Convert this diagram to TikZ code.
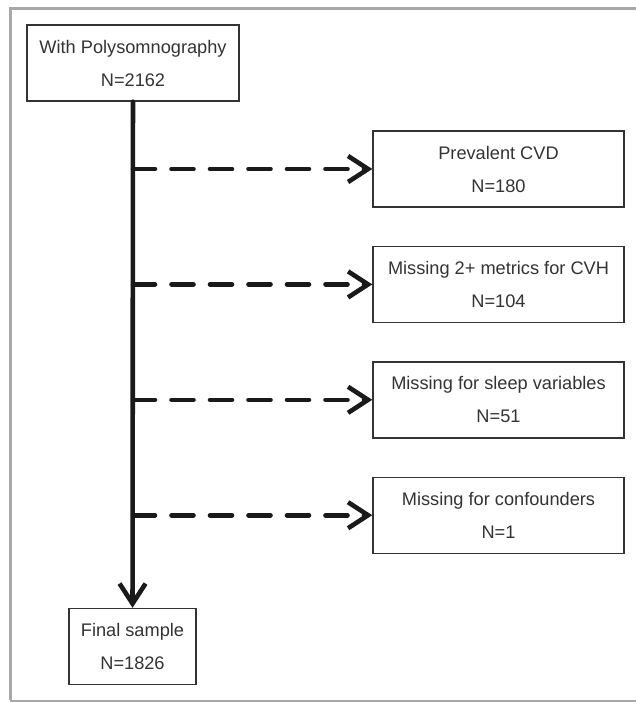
\documentclass[tikz,border=0pt]{standalone}
\usepackage{fontspec}
\setmainfont{Liberation Sans}
\usetikzlibrary{positioning,arrows.meta}
\definecolor{framegray}{HTML}{A8A8A8}
\definecolor{boxgray}{HTML}{333333}
\definecolor{linegray}{HTML}{1A1A1A}

\begin{document}
\begin{tikzpicture}[
    x=1pt, y=-1pt,
    node distance=38pt,
    box/.style={rectangle, draw=boxgray, line width=1.4pt, text=boxgray, minimum height=76pt, inner sep=0pt, align=center, font=\fontsize{18.2}{33}\selectfont, execute at begin node={\rule{0pt}{27pt}}},
    trunk/.style={draw=linegray, line width=4.6pt, line cap=round, line join=round, -{Straight Barb[length=20pt,width=26pt]}},
    exclude/.style={trunk, dash pattern=on 22pt off 16.5pt}
]
\useasboundingbox (0,0) rectangle (636,702);

% Frame
\draw[framegray, line width=3pt] (10,700) -- (10,8.5) -- (636,8.5);
\draw[framegray, line width=2pt] (10,700.5) -- (636,700.5);

% Nodes
\node[box, minimum width=212pt] (psg) at (133,63) {With Polysomnography\\N=2162};
\node[box, minimum width=251pt] (cvd) at (498.5,169) {Prevalent CVD\\N=180};
\node[box, minimum width=251pt, below=of cvd] (cvh) {Missing 2+ metrics for CVH\\N=104};
\node[box, minimum width=251pt, below=of cvh] (sleep) {Missing for sleep variables\\N=51};
\node[box, minimum width=251pt, below=of sleep] (conf) {Missing for confounders\\N=1};
\node[box, minimum width=127pt] (final) at (132.5,646.5) {Final sample\\N=1826};

% Edges
\draw[trunk] (psg) -- (final);
\draw[exclude] (psg |- cvd) -- (cvd);
\draw[exclude] (psg |- cvh) -- (cvh);
\draw[exclude] (psg |- sleep) -- (sleep);
\draw[exclude] (psg |- conf) -- (conf);

\end{tikzpicture}
\end{document}
